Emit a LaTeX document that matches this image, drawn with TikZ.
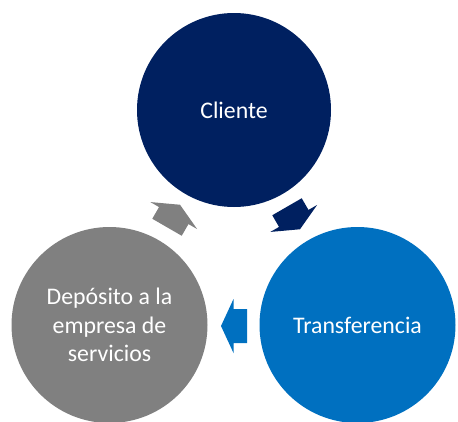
\documentclass[tikz,border=0pt]{standalone}
\usepackage{fontspec}
\setmainfont{Carlito}
\definecolor{navy}{HTML}{002060}
\definecolor{mblue}{HTML}{0070C0}
\definecolor{mgray}{HTML}{808080}
\begin{document}
\begin{tikzpicture}[x=1pt,y=-1pt,
  circ/.style={circle,inner sep=0pt,minimum size=196pt,text=white,align=center,
    font=\fontsize{23.8}{28.5}\selectfont},
  cyclearrow/.style={}]
\useasboundingbox (0,0) rectangle (458,421);
\begin{scope}
\clip (0,0) rectangle (458,421);
\node[circ,fill=navy,minimum size=194pt] (cli) at (234,110) {Cliente};
\node[circ,fill=mblue] (tra) at (357.5,325) {Transferencia};
\node[circ,fill=mgray] (dep) at (109.5,325) {Depósito a la\\empresa de\\servicios};
\end{scope}
% arrows
\newcommand{\cyclearrowshape}{(-13,-17) -- (0.5,-17) -- (0.5,-27) -- (13,0) -- (0.5,27) -- (0.5,17) -- (-13,17) -- cycle}
\fill[navy,shift={(293.5,218)},rotate=-60] \cyclearrowshape;
\fill[mblue,shift={(234,326)},rotate=180] \cyclearrowshape;
\fill[mgray,shift={(173.5,216)},rotate=60] \cyclearrowshape;
\end{tikzpicture}
\end{document}
